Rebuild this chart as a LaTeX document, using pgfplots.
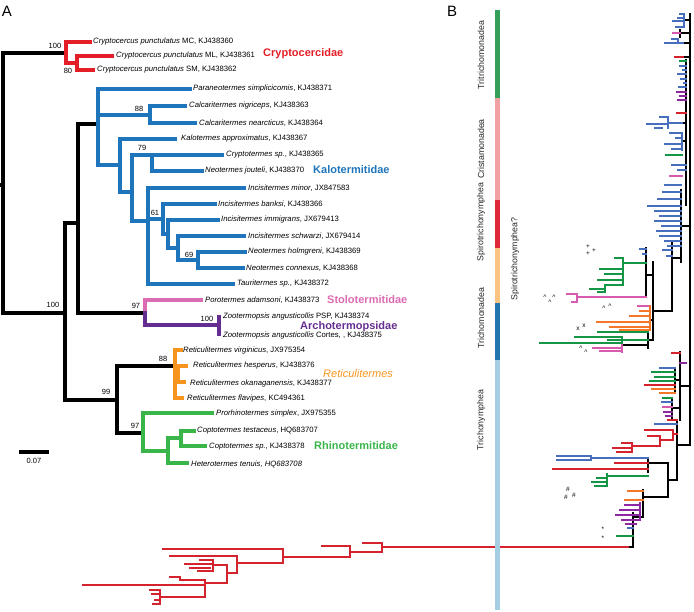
\documentclass[border=0pt]{standalone}
\usepackage{pgfplots}
\pgfplotsset{compat=1.18}
\usepackage{fontspec}
\setmainfont{Liberation Sans}
\definecolor{aRed}{RGB}{228,30,38}
\definecolor{aBlue}{RGB}{31,117,188}
\definecolor{aPink}{RGB}{219,107,178}
\definecolor{aPurple}{RGB}{102,45,145}
\definecolor{aOrange}{RGB}{247,148,30}
\definecolor{aGreen}{RGB}{57,181,74}
\definecolor{bBlue}{RGB}{72,110,190}
\definecolor{bRed}{RGB}{213,35,45}
\definecolor{bGreen}{RGB}{20,150,70}
\definecolor{bPink}{RGB}{215,90,175}
\definecolor{bOrange}{RGB}{245,120,40}
\definecolor{bPurple}{RGB}{140,40,160}
\definecolor{barGreen}{RGB}{53,158,87}
\definecolor{barPink}{RGB}{242,160,162}
\definecolor{barRed}{RGB}{220,40,55}
\definecolor{barOrange}{RGB}{252,196,130}
\definecolor{barBlue}{RGB}{33,118,176}
\definecolor{barLight}{RGB}{166,206,227}
\newcommand{\spfont}{\fontsize{7.7}{9}\selectfont}
\newcommand{\bsfont}{\fontsize{7.5}{9}\selectfont}
\newcommand{\famfont}{\fontsize{11}{13}\selectfont}
\newcommand{\lblfont}{\fontsize{8.8}{11}\selectfont}
\newcommand{\leaf}[3]{\node[anchor=west,inner sep=0pt,font=\spfont] at (axis cs:#1,#2) {#3};}
\newcommand{\bsv}[3]{\node[inner sep=0pt,font=\bsfont] at (axis cs:#1,#2) {#3};}
\newcommand{\sym}[3]{\node[inner sep=0pt,font=\fontsize{6.5}{7}\selectfont] at (axis cs:#1,#2) {#3};}
\begin{document}
\begin{tikzpicture}
\begin{axis}[at={(0,0)}, anchor=south west, width=694pt, height=611pt, scale only axis,
  xmin=0, xmax=694, ymin=0, ymax=611, y dir=reverse, hide axis, clip=false,
  unbounded coords=jump]
% ---------------- Panel A ----------------
\addplot[black, line width=3.1pt, line cap=rect, mark=none] coordinates {
(0,185) (3,185) (nan,nan)
(3,53) (3,313) (nan,nan)
(3,53) (66,53) (nan,nan)
(3,313) (65,313) (nan,nan)
(65,223) (65,400) (nan,nan)
(65,223) (78,223) (nan,nan)
(78,124) (78,313) (nan,nan)
(78,124) (98,124) (nan,nan)
(78,313) (145,313) (nan,nan)
(65,400) (117,400) (nan,nan)
(117,366) (117,433) (nan,nan)
(117,366) (175,366) (nan,nan)
(117,433) (143,433) (nan,nan)
(21,452) (47,452)
};
\addplot[aRed, line width=3.1pt, line cap=rect, mark=none] coordinates {
(66,42) (66,63) (nan,nan)
(66,42) (90,42) (nan,nan)
(66,63) (77,63) (nan,nan)
(77,56) (77,70) (nan,nan)
(77,56) (112,56) (nan,nan)
(77,70) (93,70)
};
\addplot[aBlue, line width=3.1pt, line cap=rect, mark=none] coordinates {
(98,89) (98,165) (nan,nan)
(98,89) (190,89) (nan,nan)
(98,115) (150,115) (nan,nan)
(150,106) (150,123) (nan,nan)
(150,106) (185,106) (nan,nan)
(150,123) (195,123) (nan,nan)
(98,165) (120,165) (nan,nan)
(120,139) (120,192) (nan,nan)
(120,139) (175,139) (nan,nan)
(120,192) (132,192) (nan,nan)
(132,155) (132,221) (nan,nan)
(132,155) (152,155) (nan,nan)
(152,155) (152,171) (nan,nan)
(152,155) (222,155) (nan,nan)
(152,171) (202,171) (nan,nan)
(132,221) (148,221) (nan,nan)
(148,188) (148,284) (nan,nan)
(148,188) (244,188) (nan,nan)
(148,284) (233,284) (nan,nan)
(148,219) (163,219) (nan,nan)
(163,204) (163,234) (nan,nan)
(163,204) (215,204) (nan,nan)
(163,234) (168,234) (nan,nan)
(168,220) (168,248) (nan,nan)
(168,220) (218,220) (nan,nan)
(168,248) (178,248) (nan,nan)
(178,236) (178,260) (nan,nan)
(178,236) (244,236) (nan,nan)
(178,260) (198,260) (nan,nan)
(198,252) (198,268) (nan,nan)
(198,252) (245,252) (nan,nan)
(198,268) (243,268)
};
\addplot[aPink, line width=3.1pt, line cap=rect, mark=none] coordinates {
(145,300) (145,313) (nan,nan) (145,300) (201,300)
};
\addplot[aPurple, line width=3.1pt, line cap=rect, mark=none] coordinates {
(145,313) (145,325) (nan,nan) (145,325) (219,325) (nan,nan) (219,317) (219,334)
};
\addplot[aOrange, line width=3.1pt, line cap=rect, mark=none] coordinates {
(175,350) (175,398) (nan,nan)
(175,350) (181,350) (nan,nan)
(175,374) (178,374) (nan,nan)
(178,366) (178,382) (nan,nan)
(178,366) (186,366) (nan,nan)
(178,382) (184,382) (nan,nan)
(175,398) (182,398)
};
\addplot[aGreen, line width=3.1pt, line cap=rect, mark=none] coordinates {
(143,413) (143,451) (nan,nan)
(143,413) (212,413) (nan,nan)
(143,451) (168,451) (nan,nan)
(168,438) (168,463) (nan,nan)
(168,438) (181,438) (nan,nan)
(181,431) (181,446) (nan,nan)
(181,431) (194,431) (nan,nan)
(181,446) (205,446) (nan,nan)
(168,463) (187,463)
};
% ---------------- Panel B ----------------
\addplot[black, line width=2.8pt, line cap=rect, mark=none] coordinates {
(690,14) (690,445) (nan,nan)
(686,60) (686,205) (nan,nan)
(684,20) (690,20) (nan,nan)
(680,30) (680,37) (nan,nan)
(680,33) (690,33) (nan,nan)
(683,43) (690,43) (nan,nan)
(683,57) (690,57) (nan,nan)
(682,123) (686,123) (nan,nan)
(682,141) (686,141) (nan,nan)
(681,190) (681,262) (nan,nan)
(681,226) (690,226) (nan,nan)
(672,242) (672,311) (nan,nan)
(672,258) (681,258) (nan,nan)
(653,311) (672,311) (nan,nan)
(653,262) (653,340) (nan,nan)
(646,248) (646,297) (nan,nan)
(646,275) (653,275) (nan,nan)
(650,320) (653,320) (nan,nan)
(648,340) (653,340) (nan,nan)
(648,332) (648,348) (nan,nan)
(622,345) (648,345) (nan,nan)
(680,352) (680,420) (nan,nan)
(680,386) (690,386) (nan,nan)
(675,368) (675,393) (nan,nan)
(675,380) (680,380) (nan,nan)
(672,398) (672,418) (nan,nan)
(672,408) (680,408) (nan,nan)
(677,420) (677,480) (nan,nan)
(677,445) (690,445) (nan,nan)
(668,463) (668,497) (nan,nan)
(668,480) (677,480) (nan,nan)
(648,463) (668,463) (nan,nan)
(648,458) (648,472) (nan,nan)
(643,490) (643,517) (nan,nan)
(643,497) (668,497) (nan,nan)
(633,513) (633,547) (nan,nan)
(633,517) (643,517) (nan,nan)
(628,547) (633,547)
};
\addplot[bBlue, line width=2.2pt, line cap=rect, mark=none] coordinates {
(684,14) (684,27) (nan,nan)
(680,14) (684,14) (nan,nan)
(673,21) (684,21) (nan,nan)
(676,27) (684,27) (nan,nan)
(678,18) (684,18) (nan,nan)
(665,43) (683,43) (nan,nan)
(672,39) (678,39) (nan,nan)
(678,39) (678,43) (nan,nan)
(680,66) (686,66) (nan,nan)
(683,70) (686,70) (nan,nan)
(678,74) (686,74) (nan,nan)
(681,79) (686,79) (nan,nan)
(684,83) (686,83) (nan,nan)
(679,87) (686,87) (nan,nan)
(668,117) (668,128) (nan,nan)
(660,117) (668,117) (nan,nan)
(647,124) (668,124) (nan,nan)
(655,128) (662,128) (nan,nan)
(668,123) (682,123) (nan,nan)
(682,133) (682,150) (nan,nan)
(670,133) (682,133) (nan,nan)
(676,138) (682,138) (nan,nan)
(665,144) (682,144) (nan,nan)
(672,149) (682,149) (nan,nan)
(672,165) (686,165) (nan,nan)
(678,170) (686,170) (nan,nan)
(665,185) (681,185) (nan,nan)
(663,192) (681,192) (nan,nan)
(658,199) (681,199) (nan,nan)
(648,206) (681,206) (nan,nan)
(655,211) (681,211) (nan,nan)
(660,216) (681,216) (nan,nan)
(655,221) (681,221) (nan,nan)
(662,226) (681,226) (nan,nan)
(657,231) (681,231) (nan,nan)
(660,236) (681,236) (nan,nan)
(665,241) (681,241) (nan,nan)
(668,246) (681,246) (nan,nan)
(663,250) (672,250) (nan,nan)
(667,256) (672,256) (nan,nan)
(640,249) (646,249) (nan,nan)
(643,254) (646,254) (nan,nan)
(660,368) (675,368) (nan,nan)
(662,402) (672,402) (nan,nan)
(655,424) (677,424) (nan,nan)
(557,456) (591,456) (nan,nan)
(557,460) (591,460) (nan,nan)
(591,458) (648,458) (nan,nan)
(628,528) (633,528)
};
\addplot[bRed, line width=2.2pt, line cap=rect, mark=none] coordinates {
(675,57) (683,57) (nan,nan)
(677,113) (686,113) (nan,nan)
(672,353) (680,353) (nan,nan)
(645,385) (675,385) (nan,nan)
(668,420) (677,420) (nan,nan)
(645,430) (673,430) (nan,nan)
(673,430) (673,440) (nan,nan)
(673,434) (677,434) (nan,nan)
(660,440) (673,440) (nan,nan)
(660,436) (660,446) (nan,nan)
(648,436) (660,436) (nan,nan)
(632,446) (660,446) (nan,nan)
(632,443) (632,452) (nan,nan)
(622,443) (632,443) (nan,nan)
(613,448) (632,448) (nan,nan)
(617,452) (632,452) (nan,nan)
(553,469) (648,469) (nan,nan)
(615,463) (648,463) (nan,nan)
(382,547) (628,547) (nan,nan)
(382,543) (382,552) (nan,nan)
(363,543) (382,543) (nan,nan)
(350,552) (382,552) (nan,nan)
(350,546) (350,557) (nan,nan)
(322,546) (350,546) (nan,nan)
(283,557) (350,557) (nan,nan)
(283,549) (283,563) (nan,nan)
(163,549) (283,549) (nan,nan)
(237,563) (283,563) (nan,nan)
(237,556) (237,573) (nan,nan)
(170,556) (237,556) (nan,nan)
(227,573) (237,573) (nan,nan)
(227,565) (227,583) (nan,nan)
(213,565) (227,565) (nan,nan)
(213,560) (213,571) (nan,nan)
(200,560) (213,560) (nan,nan)
(185,564) (213,564) (nan,nan)
(190,568) (210,568) (nan,nan)
(198,571) (213,571) (nan,nan)
(205,583) (227,583) (nan,nan)
(205,580) (205,597) (nan,nan)
(180,580) (205,580) (nan,nan)
(180,577) (180,580) (nan,nan)
(170,577) (180,577) (nan,nan)
(83,585) (205,585) (nan,nan)
(160,597) (205,597) (nan,nan)
(160,590) (160,604) (nan,nan)
(150,590) (160,590) (nan,nan)
(152,594) (160,594) (nan,nan)
(155,600) (160,600) (nan,nan)
(153,604) (160,604)
};
\addplot[bGreen, line width=2.2pt, line cap=rect, mark=none] coordinates {
(680,61) (686,61) (nan,nan)
(666,155) (682,155) (nan,nan)
(623,263) (646,263) (nan,nan)
(623,258) (623,285) (nan,nan)
(615,258) (623,258) (nan,nan)
(600,269) (623,269) (nan,nan)
(605,274) (623,274) (nan,nan)
(598,280) (623,280) (nan,nan)
(605,285) (623,285) (nan,nan)
(605,285) (605,292) (nan,nan)
(590,289) (605,289) (nan,nan)
(598,292) (605,292) (nan,nan)
(598,332) (648,332) (nan,nan)
(575,337) (622,337) (nan,nan)
(540,343) (622,343) (nan,nan)
(608,340) (648,340) (nan,nan)
(622,337) (622,343) (nan,nan)
(652,372) (675,372) (nan,nan)
(655,377) (675,377) (nan,nan)
(650,381) (675,381) (nan,nan)
(663,398) (672,398) (nan,nan)
(607,476) (648,476) (nan,nan)
(607,474) (607,486) (nan,nan)
(597,478) (607,478) (nan,nan)
(592,482) (607,482) (nan,nan)
(595,486) (607,486) (nan,nan)
(617,536) (633,536)
};
\addplot[bPink, line width=2.2pt, line cap=rect, mark=none] coordinates {
(673,33) (680,33) (nan,nan)
(670,176) (682,176) (nan,nan)
(577,297) (646,297) (nan,nan)
(577,294) (577,302) (nan,nan)
(567,294) (577,294) (nan,nan)
(572,302) (577,302) (nan,nan)
(638,306) (650,306) (nan,nan)
(593,348) (622,348) (nan,nan)
(600,351) (622,351) (nan,nan)
(622,345) (622,352) (nan,nan)
(663,407) (672,407)
};
\addplot[bOrange, line width=2.2pt, line cap=rect, mark=none] coordinates {
(650,306) (650,330) (nan,nan)
(640,311) (650,311) (nan,nan)
(630,316) (650,316) (nan,nan)
(597,322) (650,322) (nan,nan)
(610,327) (650,327) (nan,nan)
(620,330) (650,330) (nan,nan)
(652,389) (675,389) (nan,nan)
(660,393) (675,393) (nan,nan)
(628,491) (643,491) (nan,nan)
(625,500) (643,500)
};
\addplot[bPurple, line width=2.2pt, line cap=rect, mark=none] coordinates {
(677,92) (686,92) (nan,nan)
(680,96) (686,96) (nan,nan)
(678,100) (686,100) (nan,nan)
(680,363) (686,363) (nan,nan)
(664,412) (672,412) (nan,nan)
(666,416) (672,416) (nan,nan)
(640,503) (640,520) (nan,nan)
(625,505) (640,505) (nan,nan)
(620,510) (640,510) (nan,nan)
(616,515) (640,515) (nan,nan)
(622,520) (640,520) (nan,nan)
(626,524) (636,524)
};
% colour strip
\addplot[barGreen, line width=5pt, mark=none] coordinates {(497,10) (497,98)};
\addplot[barPink, line width=5pt, mark=none] coordinates {(497,98) (497,200)};
\addplot[barRed, line width=5pt, mark=none] coordinates {(497,200) (497,248)};
\addplot[barOrange, line width=5pt, mark=none] coordinates {(497,248) (497,303)};
\addplot[barBlue, line width=5pt, mark=none] coordinates {(497,303) (497,360)};
\addplot[barLight, line width=5pt, mark=none] coordinates {(497,360) (497,610)};
% ---------------- Text ----------------
\node[font=\fontsize{15}{16}\selectfont, inner sep=0pt] at (axis cs:7,11) {A};
\node[font=\fontsize{15}{16}\selectfont, inner sep=0pt] at (axis cs:452,11) {B};
\leaf{93}{42}{\textit{Cryptocercus punctulatus} MC, KJ438360}
\leaf{116}{56}{\textit{Cryptocercus punctulatus} ML, KJ438361}
\leaf{97}{70}{\textit{Cryptocercus punctulatus} SM, KJ438362}
\leaf{193}{89}{\textit{Paraneotermes simplicicomis}, KJ438371}
\leaf{189}{106}{\textit{Calcaritermes nigriceps}, KJ438363}
\leaf{199}{123}{\textit{Calcaritermes nearcticus}, KJ438364}
\leaf{181}{139}{\textit{Kalotermes approximatus}, KJ438367}
\leaf{226}{155}{\textit{Cryptotermes sp.}, KJ438365}
\leaf{205}{171}{\textit{Neotermes jouteli}, KJ438370}
\leaf{248}{188}{\textit{Incisitermes minor}, JX847583}
\leaf{218}{204}{\textit{Incisitermes banksi}, KJ438366}
\leaf{221}{220}{\textit{Incisitermes immigrans}, JX679413}
\leaf{248}{236}{\textit{Incisitermes schwarzi}, JX679414}
\leaf{248}{252}{\textit{Neotermes holmgreni}, KJ438369}
\leaf{246}{268}{\textit{Neotermes connexus}, KJ438368}
\leaf{237}{284}{\textit{Tauritermes sp.}, KJ438372}
\leaf{205}{300}{\textit{Porotermes adamsoni}, KJ438373}
\leaf{223}{317}{\textit{Zootermopsis angusticollis} PSP, KJ438374}
\leaf{223}{336}{\textit{Zootermopsis angusticollis} Cortes, , KJ438375}
\leaf{183}{351}{\textit{Reticulitermes virginicus}, JX975354}
\leaf{193}{366}{\textit{Reticulitermes hesperus}, KJ438376}
\leaf{190}{384}{\textit{Reticulitermes okanaganensis}, KJ438377}
\leaf{187}{399}{\textit{Reticulitermes flavipes}, KC494361}
\leaf{216}{414}{\textit{Prorhinotermes simplex}, JX975355}
\leaf{197}{431}{\textit{Coptotermes testaceus}, HQ683707}
\leaf{209}{447}{\textit{Coptotermes sp.}, KJ438378}
\leaf{191}{464}{\textit{Heterotermes tenuis, HQ683708}}
\bsv{55}{46}{100}
\bsv{68}{71}{80}
\bsv{139}{109}{88}
\bsv{142}{148}{79}
\bsv{155}{213}{61}
\bsv{189}{255}{69}
\bsv{53}{305}{100}
\bsv{136}{306}{97}
\bsv{207}{319}{100}
\bsv{163}{359}{88}
\bsv{106}{392}{99}
\bsv{135}{426}{97}
\bsv{34}{461}{0.07}
\node[anchor=west, inner sep=0pt, font=\famfont\bfseries, text=aRed] at (axis cs:263,54) {Cryptocercidae};
\node[anchor=west, inner sep=0pt, font=\famfont\bfseries, text=aBlue] at (axis cs:313,170) {Kalotermitidae};
\node[anchor=west, inner sep=0pt, font=\famfont\bfseries, text=aPink] at (axis cs:327,300) {Stolotermitidae};
\node[anchor=west, inner sep=0pt, font=\famfont\bfseries, text=aPurple] at (axis cs:300,327) {Archotermopsidae};
\node[anchor=west, inner sep=0pt, font=\famfont\itshape, text=aOrange] at (axis cs:323,374) {Reticulitermes};
\node[anchor=west, inner sep=0pt, font=\famfont\bfseries, text=aGreen] at (axis cs:314,446) {Rhinotermitidae};
\node[rotate=90, inner sep=0pt, font=\lblfont, text=black!85] at (axis cs:481,55) {Tritrichomonadea};
\node[rotate=90, inner sep=0pt, font=\lblfont, text=black!85] at (axis cs:481,149) {Cristamonadea};
\node[rotate=90, inner sep=0pt, font=\lblfont, text=black!85] at (axis cs:481,222) {Spirotrichonymphea};
\node[rotate=90, inner sep=0pt, font=\lblfont, text=black!85] at (axis cs:481,318) {Trichomonadea};
\node[rotate=90, inner sep=0pt, font=\lblfont, text=black!85] at (axis cs:481,420) {Trichonymphea};
\node[rotate=90, inner sep=0pt, font=\lblfont, text=black!85] at (axis cs:515,259) {Spirotrichonymphea?};
\sym{588}{247}{+}
\sym{594}{251}{+}
\sym{588}{254}{+}
\sym{545}{297}{\textasciicircum}
\sym{550}{302}{\textasciicircum}
\sym{554}{297}{\textasciicircum}
\sym{604}{308}{\textasciicircum}
\sym{610}{306}{\textasciicircum}
\sym{578}{329}{x}
\sym{584}{326}{x}
\sym{581}{348}{\textasciicircum}
\sym{586}{352}{\textasciicircum}
\sym{568}{489}{\#}
\sym{566}{497}{\#}
\sym{574}{495}{\#}
\sym{603}{529}{*}
\sym{603}{538}{*}
\end{axis}
\pgfresetboundingbox
\path[use as bounding box] (0,0) rectangle (694pt,611pt);
\end{tikzpicture}
\end{document}
